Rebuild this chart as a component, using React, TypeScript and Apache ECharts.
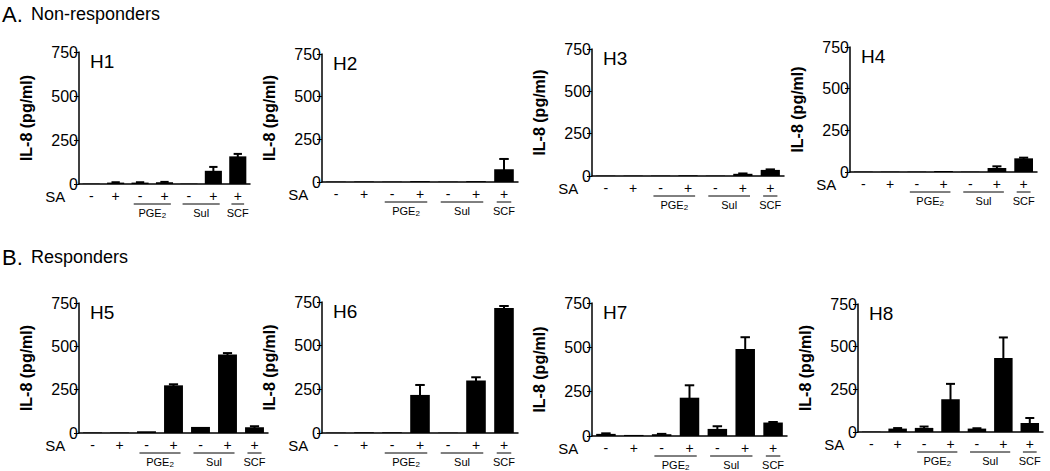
import React, { useEffect, useRef } from "react";
import * as echarts from "echarts";

// ---------- data ----------
const PANELS = ["H1", "H2", "H3", "H4", "H5", "H6", "H7", "H8"];
const CONDITIONS = ["Medium", "SA", "PGE2", "PGE2+SA", "Sul", "Sul+SA", "SCF+SA"];
const SA_SIGNS = ["-", "+", "-", "+", "-", "+", "+"];
const Y_TICKS = [0, 250, 500, 750];

const GROUP_LABELS = ["PGE2", "Sul", "SCF"];
const GROUP_FROM = [2, 4, 6];
const GROUP_TO = [3, 5, 6];

const H1_MEAN = [2, 8, 8, 10, 2, 75, 157];
const H1_SEM = [0, 2, 2, 2, 0, 22, 14];
const H2_MEAN = [2, 3, 2, 5, 2, 5, 75];
const H2_SEM = [0, 0, 0, 0, 0, 0, 60];
const H3_MEAN = [2, 2, 2, 4, 2, 13, 36];
const H3_SEM = [0, 0, 0, 0, 0, 2, 3];
const H4_MEAN = [2, 2, 2, 6, 2, 24, 82];
const H4_SEM = [0, 0, 0, 0, 0, 10, 4];
const H5_MEAN = [3, 3, 10, 275, 35, 453, 33];
const H5_SEM = [0, 0, 0, 6, 0, 8, 6];
const H6_MEAN = [2, 4, 4, 218, 2, 300, 715];
const H6_SEM = [0, 0, 0, 57, 0, 19, 12];
const H7_MEAN = [12, 6, 10, 216, 40, 490, 76];
const H7_SEM = [3, 0, 2, 70, 15, 67, 3];
const H8_MEAN = [2, 20, 24, 192, 20, 434, 53];
const H8_SEM = [0, 3, 8, 90, 2, 120, 29];

const MEANS = [H1_MEAN, H2_MEAN, H3_MEAN, H4_MEAN, H5_MEAN, H6_MEAN, H7_MEAN, H8_MEAN];
const SEMS = [H1_SEM, H2_SEM, H3_SEM, H4_SEM, H5_SEM, H6_SEM, H7_SEM, H8_SEM];

// ---------- layout ----------
const LAYOUT = [
  { left: 79, top: 52, width: 171, height: 132 },
  { left: 322, top: 54, width: 196, height: 128 },
  { left: 592, top: 49, width: 192, height: 127 },
  { left: 850, top: 47, width: 187, height: 125 },
  { left: 79, top: 303, width: 189, height: 130 },
  { left: 322, top: 302, width: 196, height: 131 },
  { left: 592, top: 303, width: 195, height: 133 },
  { left: 858, top: 304, width: 185, height: 128 },
];

const FONT = "'Liberation Sans', Arial, Helvetica, sans-serif";
const INK = "#000";

function errorRender(params: any, api: any) {
  const idx = api.value(0);
  const mean = api.value(1);
  const err = api.value(2);
  if (!err || err <= 0) return null;
  const p0 = api.coord([idx, mean]);
  const p1 = api.coord([idx, mean + err]);
  const band = api.size([1, 0])[0];
  const half = band * 0.17;
  return {
    type: "group",
    children: [
      { type: "line", shape: { x1: p0[0], y1: p0[1] + 1, x2: p1[0], y2: p1[1] }, style: { stroke: INK, lineWidth: 2 } },
      { type: "line", shape: { x1: p1[0] - half, y1: p1[1], x2: p1[0] + half, y2: p1[1] }, style: { stroke: INK, lineWidth: 2 } },
    ],
  };
}

function groupRender(params: any, api: any) {
  const a = api.coord([api.value(0), 0]);
  const b = api.coord([api.value(1), 0]);
  const band = api.size([1, 0])[0];
  const x1 = a[0] - band * 0.26;
  const x2 = b[0] + band * 0.26;
  const y = a[1] + 20;
  const label = GROUP_LABELS[params.dataIndex];
  const text = label === "PGE2" ? "{m|PGE}{s|2}" : "{m|" + label + "}";
  return {
    type: "group",
    children: [
      { type: "line", shape: { x1, y1: y, x2, y2: y }, style: { stroke: INK, lineWidth: 1 } },
      {
        type: "text",
        x: (x1 + x2) / 2,
        y: y + 3,
        style: {
          text,
          align: "center",
          verticalAlign: "top",
          fill: INK,
          rich: {
            m: { fontSize: 11, fontFamily: FONT, fill: INK, lineHeight: 12 },
            s: { fontSize: 8, fontFamily: FONT, fill: INK, lineHeight: 12, padding: [5, 0, 0, 0] },
          },
        },
      },
    ],
  };
}

function buildOption() {
  const grid = LAYOUT.map((l) => ({ left: l.left, top: l.top, width: l.width, height: l.height, containLabel: false }));
  const xAxis = LAYOUT.map((l, i) => ({
    type: "category",
    gridIndex: i,
    data: CONDITIONS,
    name: "SA",
    nameLocation: "start",
    nameGap: -5,
    nameTextStyle: { fontSize: 15, fontFamily: FONT, color: INK, verticalAlign: "top", padding: [5, 0, 0, 0] },
    axisLine: { lineStyle: { color: INK, width: 1.5 } },
    axisTick: { show: false },
    axisLabel: {
      formatter: (v: string, j: number) => SA_SIGNS[j],
      fontSize: 14,
      fontFamily: FONT,
      color: INK,
      margin: 5,
      interval: 0,
    },
  }));
  const yAxis = LAYOUT.map((l, i) => ({
    type: "value",
    gridIndex: i,
    min: Y_TICKS[0],
    max: Y_TICKS[Y_TICKS.length - 1],
    interval: Y_TICKS[1] - Y_TICKS[0],
    name: "IL-8 (pg/ml)",
    nameLocation: "middle",
    nameGap: 45,
    nameTextStyle: { fontSize: 16, fontWeight: "bold", fontFamily: FONT, color: INK },
    splitLine: { show: false },
    axisLine: { show: true, lineStyle: { color: INK, width: 1.5 } },
    axisTick: { show: true, length: 5, lineStyle: { color: INK, width: 1 } },
    axisLabel: { fontSize: 16, fontFamily: FONT, color: INK, margin: 1 },
  }));
  const series: any[] = [];
  MEANS.forEach((m, i) => {
    series.push({
      type: "bar",
      xAxisIndex: i,
      yAxisIndex: i,
      data: m,
      barWidth: "70%",
      itemStyle: { color: INK },
      silent: true,
    });
    series.push({
      type: "custom",
      xAxisIndex: i,
      yAxisIndex: i,
      data: m.map((v, j) => [j, v, SEMS[i][j]]),
      encode: { x: 0, y: 1 },
      renderItem: errorRender,
      clip: false,
      z: 3,
      silent: true,
    });
    series.push({
      type: "custom",
      xAxisIndex: i,
      yAxisIndex: i,
      data: GROUP_FROM.map((f, k) => [f, GROUP_TO[k]]),
      encode: { x: [0, 1] },
      renderItem: groupRender,
      clip: false,
      silent: true,
    });
  });
  const title = LAYOUT.map((l, i) => ({
    text: PANELS[i],
    left: l.left + 11,
    top: l.top,
    padding: 0,
    textStyle: { fontSize: 19, fontWeight: "normal", fontFamily: FONT, color: INK },
  }));
  const graphic = [
    { type: "text", left: 2, top: 3, style: { text: "A.", fontSize: 22, fontFamily: FONT, fill: INK } },
    { type: "text", left: 31, top: 5, style: { text: "Non-responders", fontSize: 18, fontFamily: FONT, fill: INK } },
    { type: "text", left: 2, top: 246, style: { text: "B.", fontSize: 22, fontFamily: FONT, fill: INK } },
    { type: "text", left: 31, top: 248, style: { text: "Responders", fontSize: 18, fontFamily: FONT, fill: INK } },
  ];
  return {
    animation: false,
    backgroundColor: "#fff",
    textStyle: { fontFamily: FONT },
    title,
    grid,
    xAxis,
    yAxis,
    series,
    graphic,
  };
}

export default function App() {
  const ref = useRef<HTMLDivElement>(null);
  useEffect(() => {
    if (!ref.current) return;
    const chart = echarts.init(ref.current, null, { renderer: "svg" });
    chart.setOption(buildOption() as any);
    return () => chart.dispose();
  }, []);
  return (
    <div
      ref={ref}
      style={{ position: "absolute", left: 0, top: 0, width: 1050, height: 471, background: "#fff" }}
    />
  );
}
